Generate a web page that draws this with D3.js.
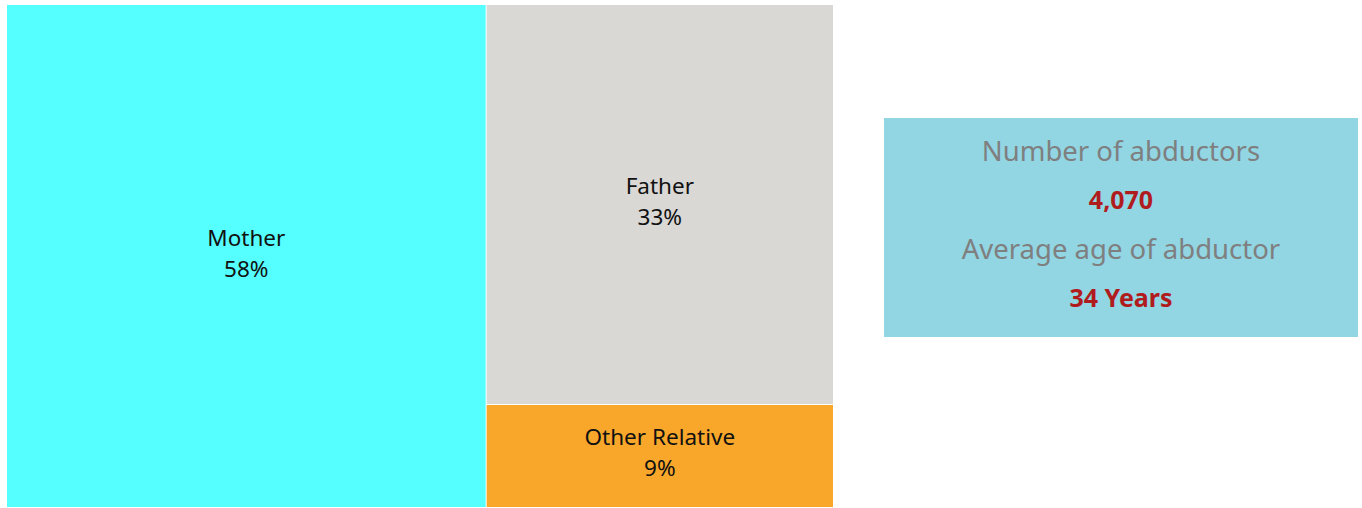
<!DOCTYPE html>
<html>
  <head>
    <meta charset="utf-8">
    <title>Abductors by relationship</title>
    <style>
    body {
        margin: 0;
        background-color: #FFF;
        font-family: "Noto Sans", sans-serif;
    }
    .cell text {
        fill: #111;
        font-size: 22.5px;
    }
    .info .label {
        fill: #7F7F7F;
        font-size: 27.5px;
    }
    .info .value {
        fill: #B01C1E;
        font-size: 25px;
        font-weight: bold;
    }
    </style>
    <script src="https://d3js.org/d3.v7.min.js"></script>
  </head>
  <body>
    <svg id="chart" width="1362" height="508"></svg>

    <script>
    // share of abductors by relationship to the child
    var categories = ["Mother", "Father", "Other Relative"];
    var shares = [0.580, 0.334, 0.086];
    var colors = ["#56FFFF", "#D9D8D5", "#F8A72B"];

    // summary box
    var infoLabels = ["Number of abductors", "Average age of abductor"];
    var infoValues = ["4,070", "34 Years"];

    var svg = d3.select("#chart");
    var pct = d3.format(".0%");

    var root = d3.hierarchy({
            children: categories.map(function(c, i) {
                return {name: c, value: shares[i], color: colors[i]};
            })
        })
        .sum(function(d) { return d.value || 0; });

    d3.treemap()
        .tile(d3.treemapBinary)
        .size([826, 502])
        .paddingInner(1)(root);

    var cell = svg.append("g")
        .attr("transform", "translate(7,5)")
      .selectAll("g")
      .data(root.leaves())
      .enter().append("g")
        .attr("class", "cell")
        .attr("transform", function(d) { return "translate(" + d.x0 + "," + d.y0 + ")"; });

    cell.append("rect")
        .attr("width", function(d) { return d.x1 - d.x0; })
        .attr("height", function(d) { return d.y1 - d.y0; })
        .attr("fill", function(d) { return d.data.color; });

    // name above the centre, percentage below
    cell.append("text")
        .attr("text-anchor", "middle")
        .attr("dominant-baseline", "central")
        .attr("x", function(d) { return (d.x1 - d.x0) / 2; })
        .attr("y", function(d) { return (d.y1 - d.y0) / 2 - 19; })
        .text(function(d) { return d.data.name; });

    cell.append("text")
        .attr("text-anchor", "middle")
        .attr("dominant-baseline", "central")
        .attr("x", function(d) { return (d.x1 - d.x0) / 2; })
        .attr("y", function(d) { return (d.y1 - d.y0) / 2 + 12; })
        .text(function(d) { return pct(d.data.value); });

    // info box on the right
    var info = svg.append("g")
        .attr("class", "info")
        .attr("transform", "translate(884,118)");

    info.append("rect")
        .attr("width", 474)
        .attr("height", 219)
        .attr("fill", "#92D5E3");

    var lines = [];
    infoLabels.forEach(function(l, i) {
        lines.push({text: l, cls: "label"});
        lines.push({text: infoValues[i], cls: "value"});
    });

    var y = d3.scalePoint()
        .domain(d3.range(lines.length))
        .range([32, 179]);

    info.selectAll("text")
      .data(lines)
      .enter().append("text")
        .attr("class", function(d) { return d.cls; })
        .attr("text-anchor", "middle")
        .attr("dominant-baseline", "central")
        .attr("x", 237)
        .attr("y", function(d, i) { return y(i); })
        .text(function(d) { return d.text; });
    </script>
  </body>
</html>
